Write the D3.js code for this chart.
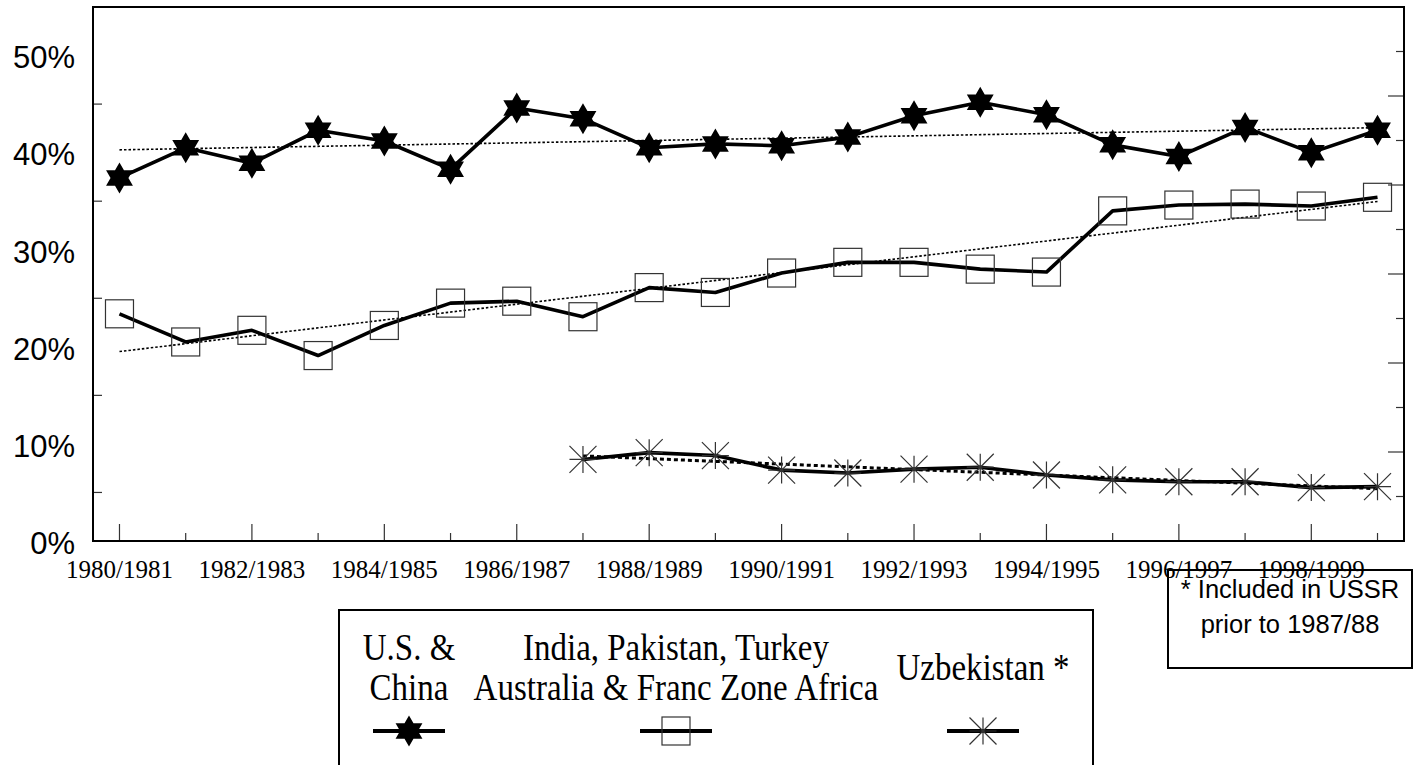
<!DOCTYPE html>
<html>
<head>
<meta charset="utf-8">
<script src="https://cdn.jsdelivr.net/npm/d3@7"></script>
<style>
    body { margin: 0; background: #fff; }
    svg { display: block; }
</style>
</head>
<body>
<svg id="chart" width="1421" height="765"></svg>
<script>

const seasons = ["1980/1981", "1981/1982", "1982/1983", "1983/1984", "1984/1985", "1985/1986",
    "1986/1987", "1987/1988", "1988/1989", "1989/1990", "1990/1991", "1991/1992", "1992/1993",
    "1993/1994", "1994/1995", "1995/1996", "1996/1997", "1997/1998", "1998/1999", "1999/2000"];

// shares of world exports, %
const usChina = [37.4, 40.5, 38.9, 42.3, 41.2, 38.3, 44.6, 43.5, 40.5, 40.9,
    40.7, 41.6, 43.8, 45.2, 43.9, 40.8, 39.6, 42.6, 40.0, 42.3];
const indiaGroup = [23.4, 20.5, 21.7, 19.1, 22.2, 24.5, 24.7, 23.1, 26.1, 25.6,
    27.6, 28.7, 28.7, 28.0, 27.7, 34.0, 34.6, 34.7, 34.5, 35.4];
// starts 1987/1988, included in USSR before
const uzbekistan = [null, null, null, null, null, null, null, 8.4, 9.1, 8.8,
    7.3, 7.0, 7.4, 7.6, 6.8, 6.3, 6.1, 6.1, 5.5, 5.6];

const yTickLabels = ["0%", "10%", "20%", "30%", "40%", "50%"];
const legendLabels = [["U.S. &", "China"], ["India, Pakistan, Turkey", "Australia & Franc Zone Africa"], ["Uzbekistan *"]];
const noteLines = ["* Included in USSR", "prior to 1987/88"];

(function() {

const svg = d3.select("#chart")
    , frame = {left: 93, top: 7, right: 1404, bottom: 541};

const x = d3.scaleLinear().domain([-0.4, 19.4]).range([frame.left, frame.right])
    , y = d3.scaleLinear().domain([0, 55]).range([frame.bottom, frame.top])
    , y2 = d3.scaleLinear().domain([0, 60]).range([frame.bottom, frame.top]);

/**
 * Hexagram made of two triangles
 */
function hexagram(r) {
    const tri = (a0) => d3.range(3).map((i) => {
        const a = a0 + i * 2 * Math.PI / 3;
        return [r * Math.sin(a), -r * Math.cos(a)];
    });
    const p = (pts) => "M" + pts.map((q) => q.join(",")).join("L") + "Z";
    return p(tri(0)) + p(tri(Math.PI));
}

function asterisk(s) {
    return "M0," + (-s) + "V" + s + "M" + (-s) + ",0H" + s
        + "M" + (-s) + "," + (-s) + "L" + s + "," + s
        + "M" + (-s) + "," + s + "L" + s + "," + (-s);
}

function markers(g, kind, cx, cy) {
    if (kind === 0) {
        g.append("path").attr("d", hexagram(15.5))
            .attr("transform", "translate(" + cx + "," + cy + ")")
            .attr("fill", "#000");
    } else if (kind === 1) {
        g.append("rect").attr("x", cx - 14).attr("y", cy - 14)
            .attr("width", 28).attr("height", 28)
            .attr("fill", "none").attr("stroke", "#333").attr("stroke-width", 1.2);
    } else {
        g.append("path").attr("d", asterisk(13.5))
            .attr("transform", "translate(" + cx + "," + cy + ")")
            .attr("fill", "none").attr("stroke", "#333").attr("stroke-width", 1.2);
    }
}

// linear regression over the defined points
function trend(values) {
    const pts = values.map((v, i) => [i, v]).filter((d) => d[1] !== null)
        , mx = d3.mean(pts, (d) => d[0])
        , my = d3.mean(pts, (d) => d[1])
        , b = d3.sum(pts, (d) => (d[0] - mx) * (d[1] - my)) / d3.sum(pts, (d) => (d[0] - mx) ** 2)
        , a = my - b * mx;
    const i0 = pts[0][0], i1 = pts[pts.length - 1][0];
    return [[i0, a + b * i0], [i1, a + b * i1]];
}

// ticks on the left (odd 5%) pointing inside
const g = svg.append("g");

g.selectAll(".ytick")
    .data(d3.range(5, 55, 10))
    .enter().append("line")
    .attr("x1", frame.left).attr("x2", frame.left + 9)
    .attr("y1", (d) => y(d)).attr("y2", (d) => y(d))
    .attr("stroke", "#333").attr("stroke-width", 1.2);

// right side secondary ticks
g.selectAll(".y2tick")
    .data(d3.range(5, 60, 5))
    .enter().append("line")
    .attr("x1", (d) => frame.right - (d % 10 === 0 ? 16 : 8)).attr("x2", frame.right)
    .attr("y1", (d) => y2(d)).attr("y2", (d) => y2(d))
    .attr("stroke", "#333").attr("stroke-width", 1.2);

// bottom ticks
g.selectAll(".xtick")
    .data(seasons)
    .enter().append("line")
    .attr("x1", (d, i) => x(i)).attr("x2", (d, i) => x(i))
    .attr("y1", frame.bottom).attr("y2", (d, i) => frame.bottom - (i % 2 === 0 ? 17 : 8))
    .attr("stroke", "#333").attr("stroke-width", 1.2);

g.selectAll(".ylabel")
    .data(yTickLabels)
    .enter().append("text")
    .attr("x", 75).attr("y", (d, i) => y(i * 10) + 2)
    .attr("dy", "0.35em")
    .attr("text-anchor", "end")
    .attr("font-family", "Liberation Sans, Arial, sans-serif")
    .attr("font-size", 31)
    .text((d) => d);

g.selectAll(".xlabel")
    .data(seasons.filter((d, i) => i % 2 === 0))
    .enter().append("text")
    .attr("x", (d, i) => x(i * 2)).attr("y", 578)
    .attr("text-anchor", "middle")
    .attr("font-family", "Liberation Serif, Times New Roman, serif")
    .attr("font-size", 25)
    .text((d) => d);

// series
const series = [usChina, indiaGroup, uzbekistan];
const line = d3.line()
    .defined((d) => d !== null)
    .x((d, i) => x(i)).y((d) => y(d));

series.forEach(function(values, k) {
    const t = trend(values);
    g.append("line")
        .attr("x1", x(t[0][0])).attr("y1", y(t[0][1]))
        .attr("x2", x(t[1][0])).attr("y2", y(t[1][1]))
        .attr("stroke", "#000")
        .attr("stroke-width", k === 2 ? 3 : 1.6)
        .attr("stroke-dasharray", k === 2 ? "4,3" : "2.5,2");

    g.append("path")
        .attr("d", line(values))
        .attr("fill", "none").attr("stroke", "#000")
        .attr("stroke-width", 3.6).attr("stroke-linejoin", "round");

    const mg = g.append("g");
    values.forEach(function(v, i) {
        if (v === null) { return; }
        markers(mg, k, x(i), y(v));
    });
});

// frame
g.append("rect")
    .attr("x", frame.left).attr("y", frame.top)
    .attr("width", frame.right - frame.left).attr("height", frame.bottom - frame.top)
    .attr("fill", "none").attr("stroke", "#000").attr("stroke-width", 2);

// legend
const legend = svg.append("g");
legend.append("rect")
    .attr("x", 339).attr("y", 610).attr("width", 754).attr("height", 200)
    .attr("fill", "none").attr("stroke", "#000").attr("stroke-width", 2);

const legendX = [409, 676, 983]
    , legendY = [[660, 700], [660, 700], [680]];

legendLabels.forEach(function(lines, k) {
    lines.forEach(function(txt, j) {
        legend.append("text")
            .attr("transform", "translate(" + legendX[k] + "," + legendY[k][j] + ") scale(1,1.12)")
            .attr("text-anchor", "middle")
            .attr("font-family", "Liberation Serif, Times New Roman, serif")
            .attr("font-size", 33)
            .text(txt);
    });
    legend.append("line")
        .attr("x1", legendX[k] - 36).attr("x2", legendX[k] + 36)
        .attr("y1", 731).attr("y2", 731)
        .attr("stroke", "#000").attr("stroke-width", 4);
    markers(legend, k, legendX[k], 731);
});

// note box, drawn over the last tick labels as in the source
const note = svg.append("g");
note.selectAll("text")
    .data(noteLines)
    .enter().append("text")
    .attr("x", 1290).attr("y", (d, i) => 598 + i * 35)
    .attr("text-anchor", "middle")
    .attr("font-family", "Liberation Sans, Arial, sans-serif")
    .attr("font-size", 25.5)
    .text((d) => d);
note.append("rect")
    .attr("x", 1168).attr("y", 570).attr("width", 244).attr("height", 98)
    .attr("fill", "none").attr("stroke", "#000").attr("stroke-width", 2);

})();
</script>
</body>
</html>
